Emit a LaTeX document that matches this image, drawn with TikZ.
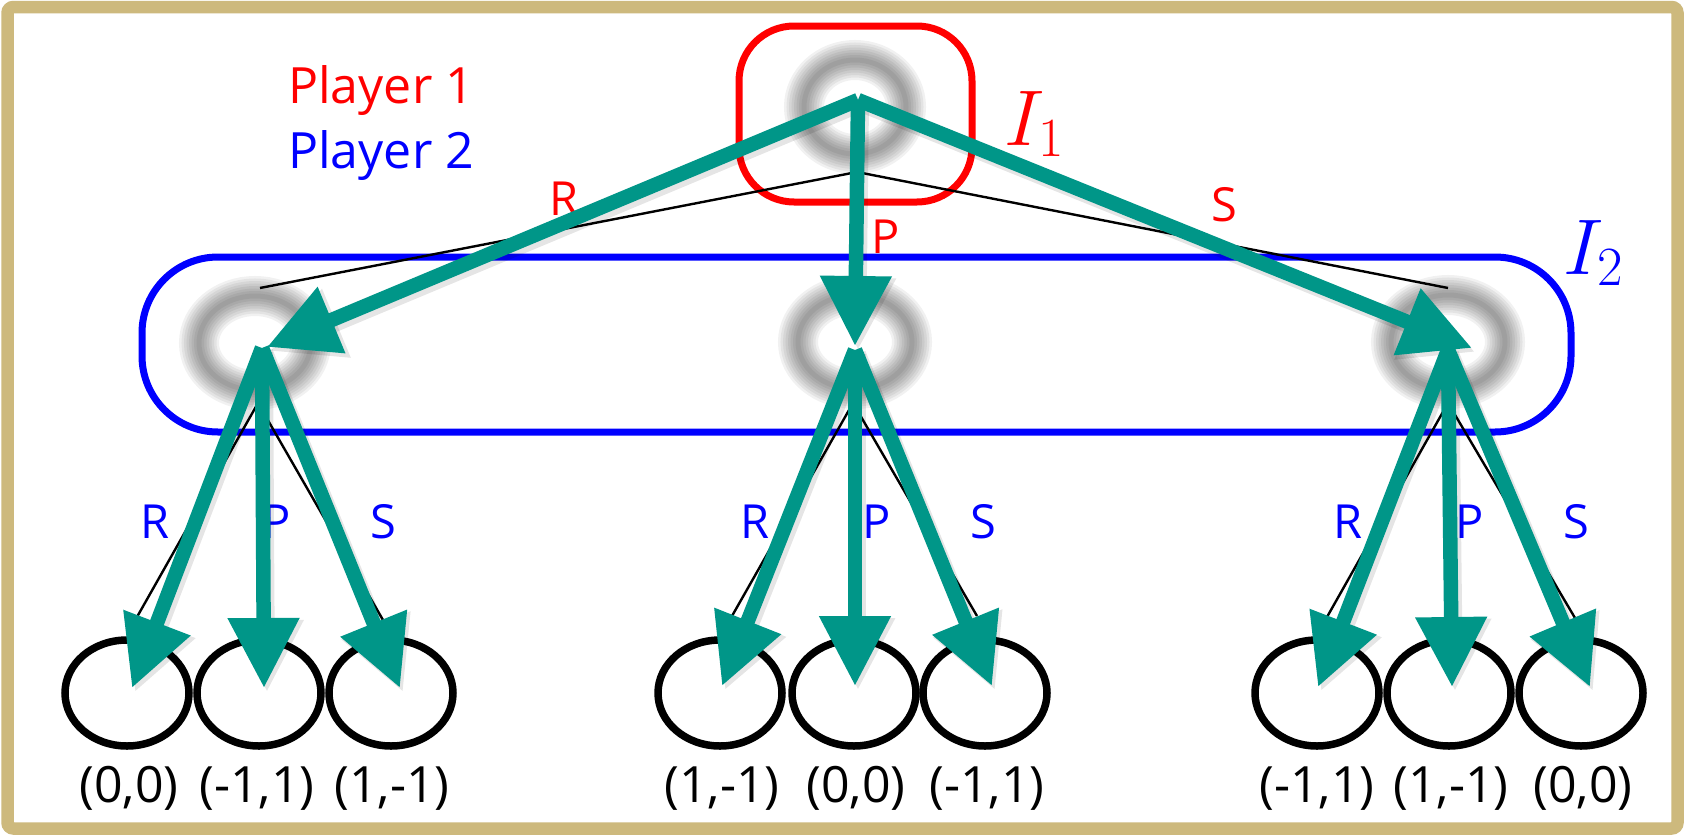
\documentclass[tikz,border=0pt]{standalone}
\usepackage{fix-cm}
\usepackage{fontspec}
\setmainfont{Open Sans}
\usetikzlibrary{arrows.meta,shapes.geometric,calc}
\definecolor{goldc}{RGB}{205,185,125}
\definecolor{tealc}{RGB}{0,150,136}
\newcommand\blurring[3]{%
  \foreach \w in {40,35,30,25,20,15,10,5}
    \draw[line width=\w pt, black, opacity=0.055] (#1.center) ellipse[x radius=#2pt, y radius=#3pt];}
\tikzset{
  ringnode/.style={circle, inner sep=0pt, minimum size=100pt},
  leafnode/.style={ellipse, draw=black, line width=7.5pt, minimum width=124pt, minimum height=106pt, inner sep=0pt},
  tarrow/.style={draw=tealc, line width=14.5pt, -{Triangle[length=70pt,width=68pt]}},
  tshadow/.style={draw=black, opacity=0.10, line width=16pt, -{Triangle[length=72pt,width=70pt]}, transform canvas={shift={(3pt,-4pt)}}},
  bline/.style={draw=black, line width=2.4pt},
  redlbl/.style={text=red, font=\fontsize{47}{50}\selectfont, inner sep=0pt, anchor=base},
  bluelbl/.style={text=blue, font=\fontsize{47}{50}\selectfont, inner sep=0pt, anchor=base},
  paylbl/.style={text=black, font=\fontsize{50}{54}\selectfont, inner sep=0pt, anchor=base},
  mathlbl/.style={font=\fontsize{79}{80}\selectfont, inner sep=0pt, anchor=base west},
}
\begin{document}
\begin{tikzpicture}[x=1pt,y=-1pt]
\useasboundingbox (0,0) rectangle (1686,838);
\fill[white] (0,0) rectangle (1686,838);
% frame
\draw[goldc, line width=12.5pt, rounded corners=6pt] (7.5,7) rectangle (1677.5,828.5);

% decision nodes (blurred rings)
\node[ringnode] (root) at (855,107) {};
\node[ringnode] (nL) at (255,343) {};
\node[ringnode] (nM) at (855,342) {};
\node[ringnode] (nR) at (1448,342) {};
\blurring{root}{51}{47}
\blurring{nL}{56}{47}
\blurring{nM}{57}{47}
\blurring{nR}{57}{47}

% information sets
\node[draw=red, line width=7pt, rounded corners=55pt, minimum width=233pt, minimum height=176pt, inner sep=0pt] (I1box) at (855.5,114) {};
\node[draw=blue, line width=7pt, rounded corners=76pt, minimum width=1429pt, minimum height=175pt, inner sep=0pt] (I2box) at (856.5,344.5) {};
\node[mathlbl, text=red] (i1) at (1004,145) {$I_1$};
\node[mathlbl, text=blue] (i2) at (1563,274) {$I_2$};

% leaves
\foreach \n/\x in {l1/127,l2/259,l3/391,l4/720,l5/854,l6/985,l7/1317,l8/1449,l9/1581}
  \node[leafnode] (\n) at (\x,693) {};

% payoffs
\node[paylbl] (p1) at (129,802) {(0,0)};
\node[paylbl] (p2) at (257,802) {(-1,1)};
\node[paylbl] (p3) at (392,802) {(1,-1)};
\node[paylbl] (p4) at (722,802) {(1,-1)};
\node[paylbl] (p5) at (856,802) {(0,0)};
\node[paylbl] (p6) at (987,802) {(-1,1)};
\node[paylbl] (p7) at (1317,802) {(-1,1)};
\node[paylbl] (p8) at (1451,802) {(1,-1)};
\node[paylbl] (p9) at (1583,802) {(0,0)};

% thin black tree
\coordinate (rB) at (857,172);
\coordinate (bL) at (260,288);
\coordinate (bM) at (855,288);
\coordinate (bR) at (1448,288);
\draw[bline] (rB) -- (bL);
\draw[bline] (rB) -- (bM);
\draw[bline] (rB) -- (bR);
\coordinate (cL) at (258,403);
\coordinate (cM) at (853,403);
\coordinate (cR) at (1448,403);
\coordinate (e1) at (137,617); \coordinate (e2) at (259,617); \coordinate (e3) at (383,620);
\coordinate (e4) at (732,616); \coordinate (e5) at (854,616); \coordinate (e6) at (977,616);
\coordinate (e7) at (1327,617); \coordinate (e8) at (1449,617); \coordinate (e9) at (1575,618);
\foreach \e in {e1,e2,e3} \draw[bline] (cL) -- (\e);
\foreach \e in {e4,e5,e6} \draw[bline] (cM) -- (\e);
\foreach \e in {e7,e8,e9} \draw[bline] (cR) -- (\e);

% labels
\node[text=red, font=\fontsize{50}{54}\selectfont, inner sep=0pt, anchor=base west] (pl1) at (288,103) {Player 1};
\node[text=blue, font=\fontsize{50}{54}\selectfont, inner sep=0pt, anchor=base west] (pl2) at (288,168) {Player 2};
\node[redlbl] (aR) at (564,215) {R};
\node[redlbl] (aP) at (886,253) {P};
\node[redlbl] (aS) at (1224,221) {S};
\foreach \px/\k in {255/L,855/M,1448/R}{
  \node[bluelbl] (bR\k) at (\px-100,538) {R};
  \node[bluelbl] (bP\k) at (\px+22,538) {P};
  \node[bluelbl] (bS\k) at (\px+128,538) {S};
}

% teal arrows
\coordinate (rA) at (858,100);
\coordinate (tL) at (267,347);
\coordinate (tM) at (855,346);
\coordinate (tR) at (1472,348);
\coordinate (sL) at (262,348);
\coordinate (sM) at (855,350);
\coordinate (sR) at (1448,350);
\coordinate (t1) at (132,688); \coordinate (t2) at (264,688); \coordinate (t3) at (400,688);
\coordinate (t4) at (722,686); \coordinate (t5) at (855,686); \coordinate (t6) at (992,686);
\coordinate (t7) at (1318,687); \coordinate (t8) at (1452,687); \coordinate (t9) at (1590,687);

\foreach \a/\b in {rA/tL,rA/tM,rA/tR,sL/t1,sL/t2,sL/t3,sM/t4,sM/t5,sM/t6,sR/t7,sR/t8,sR/t9}
  \draw[tshadow] (\a) -- (\b);
\foreach \a/\b in {rA/tL,rA/tM,rA/tR,sL/t1,sL/t2,sL/t3,sM/t4,sM/t5,sM/t6,sR/t7,sR/t8,sR/t9}
  \draw[tarrow] (\a) -- (\b);
\end{tikzpicture}
\end{document}
